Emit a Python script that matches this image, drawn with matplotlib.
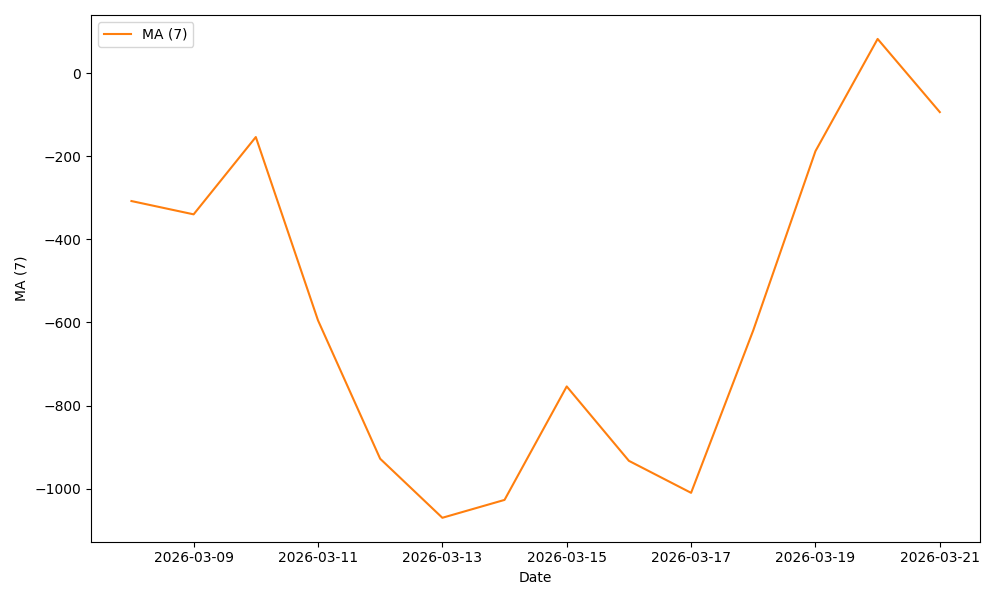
import pandas as pd
import matplotlib
matplotlib.use("Agg")
import matplotlib.pyplot as plt

# Data
dates = pd.date_range("2026-03-08", "2026-03-21", freq="D")
ma7 = [-308, -340, -154, -595, -928, -1070, -1027, -754, -933, -1010,
       -619, -188, 82, -94]

plt.figure(figsize=(10, 6))
plt.plot(dates, ma7, color="#ff7f0e", label="MA (7)")
plt.xlabel("Date")
plt.ylabel("MA (7)")
plt.legend(loc="upper left")
plt.tight_layout()
plt.savefig("out.png", dpi=100)
